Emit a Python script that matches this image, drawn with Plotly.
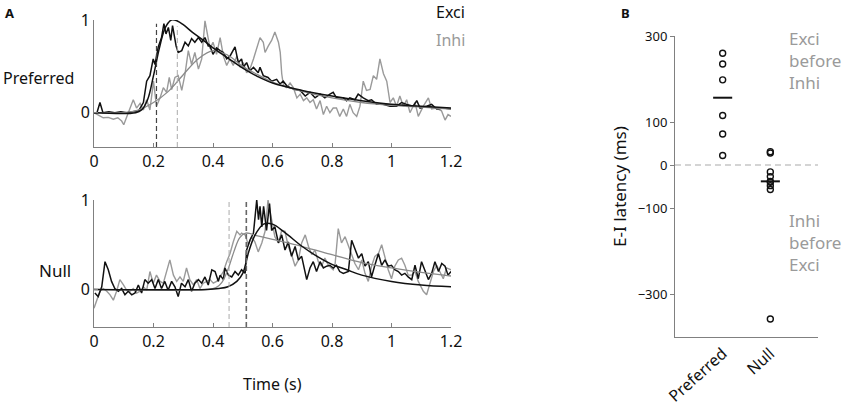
import numpy as np
import plotly.graph_objects as go

# ---------------- data ----------------
time_ticks = [0, 0.2, 0.4, 0.6, 0.8, 1.0, 1.2]
time_tick_labels = ["0", "0.2", "0.4", "0.6", "0.8", "1", "1.2"]

# Preferred direction: (time s, normalised conductance)
pref_exci = [(0.00,0.0),(0.01,0.0),(0.02,0.11),(0.03,0.0),(0.05,0.01),(0.07,0.0),(0.09,0.01),(0.11,0.0),(0.13,0.01),(0.15,0.02),
             (0.166,0.11),(0.177,0.34),(0.188,0.40),(0.199,0.58),(0.205,0.52),(0.216,0.71),(0.227,0.81),(0.235,0.96),(0.242,0.85),(0.250,0.92),
             (0.258,0.78),(0.264,0.94),(0.276,0.72),(0.283,0.65),(0.295,0.67),(0.306,0.76),(0.317,0.72),(0.328,0.80),(0.339,0.76),(0.351,0.81),
             (0.362,0.76),(0.373,0.81),(0.384,0.72),(0.39,0.72),(0.40,0.63),(0.412,0.70),(0.424,0.67),(0.435,0.65),(0.446,0.58),(0.457,0.61),
             (0.474,0.71),(0.485,0.54),(0.496,0.58),(0.502,0.49),(0.513,0.54),(0.524,0.45),(0.536,0.49),(0.552,0.43),(0.558,0.49),(0.569,0.40),
             (0.585,0.38),(0.597,0.34),(0.614,0.36),(0.625,0.31),(0.636,0.34),(0.648,0.29),(0.659,0.27),(0.676,0.25),(0.693,0.24),(0.71,0.18),
             (0.726,0.22),(0.743,0.16),(0.76,0.20),(0.776,0.16),(0.793,0.20),(0.804,0.22),(0.815,0.16),(0.838,0.16),(0.849,0.13),(0.86,0.16),
             (0.877,0.14),(0.888,0.20),(0.905,0.16),(0.922,0.13),(0.933,0.14),(0.95,0.09),(0.972,0.09),(0.995,0.07),(1.017,0.07),(1.034,0.11),
             (1.051,0.09),(1.073,0.07),(1.085,0.13),(1.096,0.05),(1.118,0.07),(1.135,0.09),(1.152,0.04),(1.175,0.05),(1.2,0.04)]

pref_inhi = [(0.0,0.0),(0.01,-0.02),(0.031,-0.055),(0.048,-0.05),(0.065,-0.07),(0.08,-0.055),(0.093,-0.09),(0.10,-0.13),(0.11,-0.04),(0.12,0.05),
             (0.132,0.14),(0.143,0.05),(0.155,0.10),(0.166,0.03),(0.177,0.14),(0.188,0.03),(0.194,0.22),(0.2,0.34),(0.21,0.07),(0.222,0.16),
             (0.233,0.27),(0.244,0.22),(0.253,0.38),(0.261,0.25),(0.272,0.38),(0.283,0.40),(0.295,0.24),(0.306,0.42),(0.317,0.67),(0.328,0.52),
             (0.339,0.65),(0.351,0.47),(0.362,0.58),(0.373,0.99),(0.384,0.80),(0.39,0.69),(0.40,0.76),(0.412,0.63),(0.424,0.81),(0.435,0.61),
             (0.446,0.51),(0.457,0.58),(0.468,0.51),(0.48,0.61),(0.491,0.49),(0.502,0.54),(0.513,0.43),(0.524,0.47),(0.536,0.58),(0.547,0.71),
             (0.558,0.81),(0.569,0.76),(0.575,0.65),(0.586,0.72),(0.597,0.78),(0.608,0.87),(0.62,0.76),(0.626,0.65),(0.631,0.42),(0.637,0.29),
             (0.648,0.27),(0.659,0.32),(0.67,0.27),(0.682,0.16),(0.693,0.20),(0.704,0.13),(0.715,0.16),(0.726,0.11),(0.737,0.14),(0.748,0.04),
             (0.76,0.13),(0.771,-0.02),(0.782,0.07),(0.793,0.0),(0.804,0.05),(0.815,0.05),(0.826,-0.04),(0.838,0.04),(0.849,-0.04),(0.86,0.09),
             (0.871,0.0),(0.883,-0.04),(0.894,0.07),(0.905,0.34),(0.916,0.24),(0.928,0.25),(0.939,0.40),(0.95,0.36),(0.961,0.58),(0.973,0.42),
             (0.984,0.34),(0.995,0.11),(1.006,0.16),(1.017,0.07),(1.028,0.18),(1.04,0.07),(1.051,0.14),(1.062,0.0),(1.079,0.11),(1.09,-0.04),
             (1.107,0.07),(1.124,0.16),(1.135,0.04),(1.151,0.05),(1.168,0.02),(1.18,-0.08),(1.19,-0.02),(1.2,-0.04)]

pref_exci_fit = [(0,0),(0.14,0.0),(0.16,0.03),(0.18,0.14),(0.2,0.40),(0.22,0.70),(0.24,0.92),(0.26,1.0),(0.28,0.99),(0.30,0.95),
                 (0.33,0.87),(0.36,0.80),(0.40,0.70),(0.45,0.59),(0.5,0.48),(0.55,0.39),(0.6,0.32),(0.7,0.24),(0.8,0.18),(0.9,0.13),
                 (1.0,0.09),(1.1,0.07),(1.2,0.05)]
pref_inhi_fit = [(0,0),(0.1,0.0),(0.15,0.03),(0.2,0.11),(0.25,0.23),(0.3,0.41),(0.35,0.58),(0.4,0.67),(0.45,0.62),(0.5,0.50),
                 (0.55,0.41),(0.6,0.33),(0.7,0.23),(0.8,0.16),(0.9,0.11),(1.0,0.08),(1.1,0.06),(1.2,0.04)]

# Null direction
null_exci = [(0.003,-0.04),(0.014,-0.08),(0.026,0.03),(0.037,0.31),(0.048,0.22),(0.059,0.09),(0.07,0.01),(0.082,-0.02),(0.093,0.01),(0.104,-0.06),
             (0.115,-0.02),(0.127,-0.06),(0.138,-0.04),(0.149,0.05),(0.16,-0.04),(0.171,0.11),(0.182,0.07),(0.194,0.11),(0.205,0.01),(0.216,0.11),
             (0.227,0.01),(0.238,0.09),(0.249,-0.01),(0.261,0.09),(0.272,0.03),(0.283,-0.08),(0.294,0.07),(0.306,0.03),(0.317,0.11),(0.328,-0.02),
             (0.339,0.07),(0.351,0.11),(0.362,0.07),(0.373,0.14),(0.384,0.05),(0.396,0.22),(0.407,0.20),(0.418,0.09),(0.424,0.16),(0.435,0.11),
             (0.44,0.24),(0.452,0.16),(0.463,0.14),(0.474,0.20),(0.485,0.16),(0.496,0.22),(0.508,0.18),(0.513,0.44),(0.524,0.55),(0.536,0.63),
             (0.547,1.0),(0.553,0.78),(0.558,0.93),(0.564,0.70),(0.57,0.93),(0.58,0.66),(0.59,0.96),(0.597,0.66),(0.608,0.70),(0.62,0.52),
             (0.631,0.61),(0.642,0.44),(0.653,0.53),(0.664,0.37),(0.676,0.48),(0.687,0.33),(0.698,0.37),(0.71,0.20),(0.715,0.11),(0.726,0.24),
             (0.737,0.31),(0.748,0.20),(0.76,0.31),(0.771,0.24),(0.782,0.26),(0.793,0.27),(0.804,0.24),(0.815,0.27),(0.826,0.20),(0.838,0.18),
             (0.855,0.20),(0.866,0.55),(0.877,0.46),(0.889,0.35),(0.9,0.40),(0.911,0.26),(0.922,0.31),(0.933,0.14),(0.944,0.27),(0.956,0.40),
             (0.967,0.27),(0.978,0.33),(0.989,0.26),(1.0,0.27),(1.011,0.22),(1.023,0.20),(1.034,0.16),(1.045,0.18),(1.056,0.14),(1.068,0.11),
             (1.079,0.27),(1.09,0.12),(1.101,0.31),(1.113,0.20),(1.124,0.11),(1.135,0.18),(1.146,0.31),(1.158,0.20),(1.169,0.29),(1.18,0.26),
             (1.19,0.16),(1.2,0.20)]

null_inhi = [(0.0,-0.21),(0.009,-0.12),(0.02,-0.02),(0.031,0.01),(0.043,-0.02),(0.054,-0.06),(0.065,-0.12),(0.076,-0.02),(0.087,0.11),(0.099,0.05),
             (0.11,-0.01),(0.121,-0.02),(0.132,0.01),(0.143,-0.04),(0.155,-0.02),(0.166,0.03),(0.177,-0.01),(0.188,0.20),(0.199,0.07),(0.21,0.16),
             (0.222,0.09),(0.233,0.07),(0.244,0.20),(0.255,0.33),(0.267,0.16),(0.278,0.09),(0.289,0.14),(0.3,0.09),(0.311,0.24),(0.322,0.11),
             (0.334,0.05),(0.345,0.11),(0.356,0.01),(0.367,0.07),(0.379,0.09),(0.39,0.11),(0.401,0.07),(0.412,0.09),(0.424,0.14),(0.435,0.20),
             (0.446,0.31),(0.457,0.40),(0.468,0.53),(0.48,0.65),(0.491,0.61),(0.496,0.63),(0.508,0.61),(0.519,0.50),(0.53,0.59),(0.541,0.53),
             (0.552,0.42),(0.564,0.52),(0.575,0.65),(0.585,1.0),(0.597,0.78),(0.608,0.59),(0.62,0.52),(0.631,0.66),(0.642,0.65),(0.653,0.48),
             (0.664,0.39),(0.676,0.26),(0.687,0.33),(0.698,0.52),(0.71,0.61),(0.721,0.48),(0.732,0.39),(0.743,0.44),(0.754,0.31),(0.765,0.26),
             (0.776,0.35),(0.788,0.27),(0.804,0.22),(0.81,0.27),(0.821,0.68),(0.832,0.52),(0.844,0.59),(0.855,0.48),(0.866,0.39),(0.877,0.29),
             (0.889,0.22),(0.9,0.33),(0.911,0.18),(0.922,0.09),(0.933,0.26),(0.944,0.37),(0.956,0.40),(0.967,0.50),(0.978,0.35),(0.989,0.22),
             (1.0,0.12),(1.011,0.26),(1.023,0.33),(1.034,0.35),(1.045,0.27),(1.056,0.16),(1.068,0.16),(1.079,0.20),(1.09,0.09),(1.107,-0.02),
             (1.118,-0.06),(1.13,0.09),(1.141,0.20),(1.152,0.27),(1.163,0.20),(1.174,0.12),(1.185,0.24),(1.2,0.22)]

null_exci_fit = [(0,0),(0.38,0.0),(0.42,0.01),(0.45,0.03),(0.48,0.09),(0.50,0.18),(0.52,0.42),(0.54,0.60),(0.57,0.73),(0.60,0.73),
                 (0.64,0.64),(0.7,0.48),(0.75,0.37),(0.8,0.28),(0.85,0.22),(0.9,0.16),(1.0,0.09),(1.1,0.05),(1.2,0.03)]
null_inhi_fit = [(0,0),(0.38,0.0),(0.41,0.02),(0.43,0.08),(0.45,0.22),(0.47,0.42),(0.49,0.58),(0.51,0.63),(0.55,0.60),(0.6,0.56),
                 (0.7,0.48),(0.8,0.39),(0.9,0.30),(1.0,0.24),(1.1,0.19),(1.2,0.15)]

# onset latencies (s)
pref_onset_exci, pref_onset_inhi = 0.21, 0.28
null_onset_exci, null_onset_inhi = 0.512, 0.454

# Panel B
groups = ["Preferred", "Null"]
pref_latency = [260, 235, 198, 115, 72, 22]
null_latency = [31, 28, -16, -27, -38, -40, -48, -57, -358]
latency_ticks = [300, 100, 0, -100, -300]

# ---------------- figure ----------------
BLACK = "#111111"
GRAY = "#9a9a9a"
AX = "#808080"
FONT = "Noto Sans"

fig = go.Figure()

def add_line(pairs, xa, ya, color, width, shape="linear"):
    t, v = zip(*pairs)
    fig.add_trace(go.Scatter(x=list(t), y=list(v), mode="lines", xaxis=xa, yaxis=ya,
                             line=dict(color=color, width=width, shape=shape),
                             hoverinfo="skip", showlegend=False))

add_line(pref_inhi, "x", "y", GRAY, 1.4)
add_line(pref_exci, "x", "y", BLACK, 1.5)
add_line(pref_inhi_fit, "x", "y", "#8a8a8a", 1.3, "spline")
add_line(pref_exci_fit, "x", "y", BLACK, 1.5, "spline")

add_line(null_inhi, "x2", "y2", GRAY, 1.4)
add_line(null_exci, "x2", "y2", BLACK, 1.5)
add_line(null_inhi_fit, "x2", "y2", "#8a8a8a", 1.3, "spline")
add_line(null_exci_fit, "x2", "y2", BLACK, 1.5, "spline")

# Panel B scatter
for i, vals in enumerate([pref_latency, null_latency]):
    xpos = i + 1
    fig.add_trace(go.Scatter(x=[xpos] * len(vals), y=vals, mode="markers", xaxis="x3", yaxis="y3",
                             marker=dict(symbol="circle-open", size=6, color=BLACK, line=dict(width=1.4)),
                             hoverinfo="skip", showlegend=False))
    med = float(np.median(vals))
    fig.add_trace(go.Scatter(x=[xpos - 0.2, xpos + 0.2], y=[med, med], mode="lines", xaxis="x3", yaxis="y3",
                             line=dict(color=BLACK, width=2), hoverinfo="skip", showlegend=False))

shapes = [
    dict(type="line", xref="x", yref="y domain", x0=pref_onset_exci, x1=pref_onset_exci, y0=0, y1=0.97,
         line=dict(color="#444444", width=1.2, dash="5px,3px")),
    dict(type="line", xref="x", yref="y domain", x0=pref_onset_inhi, x1=pref_onset_inhi, y0=0, y1=0.95,
         line=dict(color="#aaaaaa", width=1.0, dash="5px,3px")),
    dict(type="line", xref="x2", yref="y2 domain", x0=null_onset_inhi, x1=null_onset_inhi, y0=0, y1=1.0,
         line=dict(color="#aaaaaa", width=1.0, dash="5px,3px")),
    dict(type="line", xref="x2", yref="y2 domain", x0=null_onset_exci, x1=null_onset_exci, y0=0, y1=1.0,
         line=dict(color="#666666", width=1.6, dash="5px,3px")),
    dict(type="line", xref="x3 domain", yref="y3", x0=0, x1=1, y0=0, y1=0,
         line=dict(color="#aaaaaa", width=1.2, dash="6px,4px")),
]

W, H = 843, 406
def px(x): return x / W
def py(y): return 1 - y / H

left_x = dict(showline=True, linecolor=AX, linewidth=1, ticks="inside", ticklen=4, tickcolor=AX,
              showgrid=False, zeroline=False, range=[0, 1.2], tickvals=time_ticks, ticktext=time_tick_labels,
              tickfont=dict(size=16, color=BLACK, family=FONT), domain=[px(94), px(451)], automargin=False)
left_y = dict(showline=True, linecolor=AX, linewidth=1, ticks="inside", ticklen=4, tickcolor=AX,
              showgrid=False, zeroline=False, tickvals=[0, 1], ticktext=["0", "1"], automargin=False,
              tickfont=dict(size=16, color=BLACK, family=FONT))

fig.update_layout(
    width=W, height=H, margin=dict(l=0, r=0, t=0, b=0, autoexpand=False),
    paper_bgcolor="white", plot_bgcolor="white",
    font=dict(family=FONT, color=BLACK),
    showlegend=False,
    xaxis=dict(left_x, anchor="y"),
    yaxis=dict(left_y, anchor="x", range=[-0.37, 1.0], domain=[py(147), py(20)]),
    xaxis2=dict(left_x, anchor="y2"),
    yaxis2=dict(left_y, anchor="x2", range=[-0.42, 1.0], domain=[py(327), py(200)]),
    xaxis3=dict(anchor="y3", domain=[px(675), px(818)], range=[0, 3], showline=True, linecolor=AX,
                linewidth=1, ticks="", showgrid=False, zeroline=False, tickvals=[1, 2], ticktext=groups,
                tickangle=-42, tickfont=dict(size=16, color=BLACK, family=FONT), automargin=False),
    yaxis3=dict(anchor="x3", domain=[py(337), py(36)], range=[-400, 300], showline=True, linecolor=AX,
                linewidth=1, ticks="outside", ticklen=4, tickcolor=AX, showgrid=False, zeroline=False,
                tickvals=latency_ticks, tickfont=dict(size=13, color=BLACK, family=FONT), automargin=False,
                title=dict(text="E-I latency (ms)", font=dict(size=17, color=BLACK, family=FONT), standoff=6)),
    shapes=shapes,
)

ann = [
    dict(text="<b>A</b>", x=px(3), y=py(2), xanchor="left", yanchor="top", font=dict(size=13)),
    dict(text="<b>B</b>", x=px(619), y=py(2), xanchor="left", yanchor="top", font=dict(size=13)),
    dict(text="Preferred", x=px(1), y=py(78), xanchor="left", yanchor="middle", font=dict(size=16)),
    dict(text="Null", x=px(73), y=py(270), xanchor="right", yanchor="middle", font=dict(size=17)),
    dict(text="Exci", x=px(434), y=py(12), xanchor="left", yanchor="middle", font=dict(size=16, color=BLACK)),
    dict(text="Inhi", x=px(434), y=py(40), xanchor="left", yanchor="middle", font=dict(size=16, color=GRAY)),
    dict(text="Time (s)", x=px(272), y=py(384), xanchor="center", yanchor="middle", font=dict(size=16)),
    dict(text="Exci<br>before<br>Inhi", x=px(787), y=py(25), xanchor="left", yanchor="top", align="left",
         font=dict(size=17, color=GRAY)),
    dict(text="Inhi<br>before<br>Exci", x=px(787), y=py(207), xanchor="left", yanchor="top", align="left",
         font=dict(size=17, color=GRAY)),
]
for a in ann:
    a.update(xref="paper", yref="paper", showarrow=False)
    a.setdefault("font", {})
    a["font"].setdefault("family", FONT)
    a["font"].setdefault("color", BLACK)
fig.update_layout(annotations=ann)

fig.write_html("out.html", config={"displayModeBar": False},
               post_script="document.body.style.margin='0';document.body.style.overflow='hidden';")
